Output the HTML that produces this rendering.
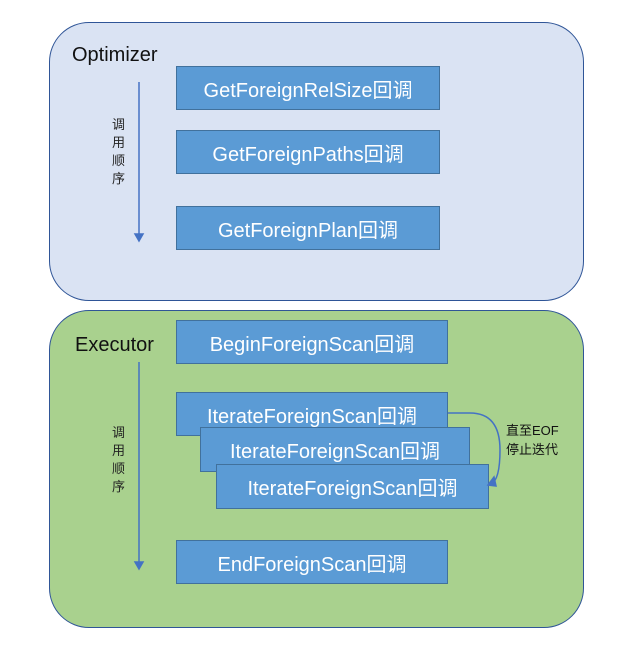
<!DOCTYPE html>
<html><head><meta charset="utf-8"><style>
body{margin:0;width:639px;height:665px;background:#fff;position:relative;font-family:"Liberation Sans","Noto Sans CJK SC",sans-serif;overflow:hidden}
.c{position:absolute;border:1.3px solid #2F5597;border-radius:40px;box-sizing:border-box}
.b{position:absolute;background:#5B9BD5;border:1px solid #41719C;box-sizing:border-box;color:#fff;font-size:20px;display:flex;align-items:center;justify-content:center;white-space:nowrap}
.t{position:absolute;font-size:20px;color:#111}
.v{position:absolute;font-size:13px;line-height:18px;width:16px;color:#222}
</style></head><body>
<div class="c" style="left:49px;top:22px;width:535px;height:279px;background:#DAE3F3"></div>
<div class="c" style="left:49px;top:310px;width:535px;height:318px;background:#A9D18E"></div>
<div class="t" style="left:72px;top:44px">Optimizer</div>
<div class="t" style="left:75px;top:334px">Executor</div>
<div class="b" style="left:176px;top:66px;width:264px;height:44px">GetForeignRelSize回调</div>
<div class="b" style="left:176px;top:130px;width:264px;height:44px">GetForeignPaths回调</div>
<div class="b" style="left:176px;top:206px;width:264px;height:44px">GetForeignPlan回调</div>
<div class="b" style="left:176px;top:320px;width:272px;height:44px">BeginForeignScan回调</div>
<div class="b" style="left:176px;top:392px;width:272px;height:44px">IterateForeignScan回调</div>
<div class="b" style="left:200px;top:427px;width:270px;height:45px">IterateForeignScan回调</div>
<div class="b" style="left:216px;top:464px;width:273px;height:45px">IterateForeignScan回调</div>
<div class="b" style="left:176px;top:540px;width:272px;height:44px">EndForeignScan回调</div>
<div class="v" style="left:112px;top:116px">调用顺序</div>
<div class="v" style="left:112px;top:424px">调用顺序</div>
<div style="position:absolute;left:506px;top:421px;font-size:13px;line-height:19px;color:#111">直至EOF<br>停止迭代</div>
<svg width="639" height="665" style="position:absolute;left:0;top:0">
<g stroke="#4472C4" stroke-width="1.5" fill="#4472C4">
<line x1="139" y1="82" x2="139" y2="234"/><polygon points="135,234 143,234 139,241"/>
<line x1="139" y1="362" x2="139" y2="562"/><polygon points="135,562 143,562 139,569"/>
<path d="M448,413 L470,413 Q500,413 500,450 Q500,480 491,484" fill="none"/>
<polygon points="488,485 494,477 496,486"/>
</g></svg>
</body></html>
